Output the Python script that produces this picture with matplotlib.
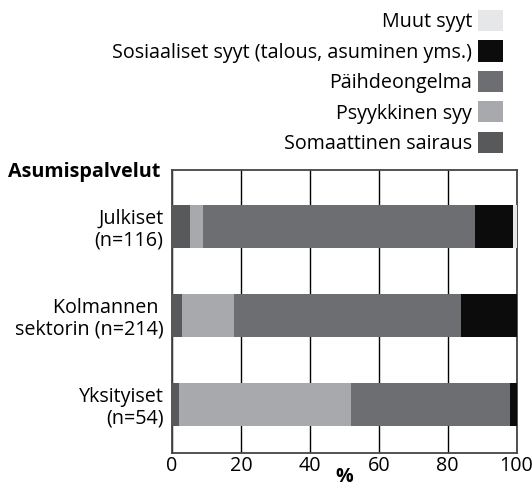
import numpy as np
import matplotlib.pyplot as plt
from matplotlib.patches import Patch

plt.rcParams['font.family'] = ['Open Sans', 'DejaVu Sans']

groups = ['Julkiset\n(n=116)', 'Kolmannen \nsektorin (n=214)', 'Yksityiset\n(n=54)']
series = ['Somaattinen sairaus', 'Psyykkinen syy', 'Päihdeongelma',
          'Sosiaaliset syyt (talous, asuminen yms.)', 'Muut syyt']
colors = ['#58595b', '#a7a9ac', '#6d6e71', '#0c0c0c', '#e6e7e8']

somaattinen = [5.1, 3.0, 1.9]
psyykkinen = [3.9, 15.1, 50.1]
paihde = [78.9, 65.9, 46.1]
sosiaaliset = [11.1, 16.0, 1.9]
muut = [1.0, 0.0, 0.0]
values = [somaattinen, psyykkinen, paihde, sosiaaliset, muut]

fs = 14.2

fig = plt.figure(figsize=(5.32, 4.91), dpi=100)
ax = fig.add_axes([0.3233, 0.0774, 0.6476, 0.5764])

y = np.arange(len(groups))
left = np.zeros(len(groups))
handles = []
for name, vals, c in zip(series, values, colors):
    ax.barh(y, vals, left=left, height=0.483, color=c, zorder=3, linewidth=0)
    left += np.array(vals)
    handles.append(Patch(facecolor=c, label=name))

ax.set_xlim(0, 100)
ax.set_ylim(2.545, -0.635)
ax.set_xticks([0, 20, 40, 60, 80, 100])
ax.set_yticks(y)
ax.set_yticklabels(groups, ha='right', multialignment='right', linespacing=1.1)
ax.tick_params(length=0, labelsize=fs, pad=6)
ax.tick_params(axis='x', pad=2)
ax.grid(axis='x', color='black', linewidth=1, zorder=0)
for s in ax.spines.values():
    s.set_color('#444444')
    s.set_linewidth(1.3)
ax.set_xlabel('%', fontsize=fs, fontweight='bold', labelpad=-6)

fig.text(160 / 532, 1 - 172 / 491, 'Asumispalvelut', ha='right', va='center',
         fontsize=fs, fontweight='bold')

fig.legend(handles=handles[::-1], loc='upper right', bbox_to_anchor=(503 / 532, 1 - 10 / 491),
           bbox_transform=fig.transFigure, frameon=False, markerfirst=False,
           fontsize=fs, handlelength=1.27, handleheight=1.27, labelspacing=0.42,
           handletextpad=0.3, borderpad=0, borderaxespad=0)

fig.savefig('out.png', dpi=100)
